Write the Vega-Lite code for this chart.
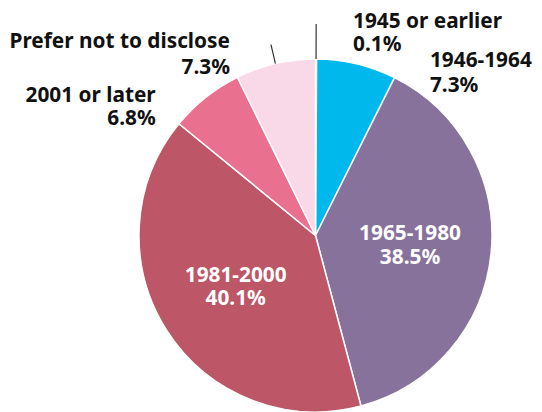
{
  "$schema": "https://vega.github.io/schema/vega-lite/v6.json",
  "width": 400,
  "height": 300,
  "autosize": "none",
  "padding": {"left": 115.5, "top": 85.5, "right": 26.5, "bottom": 26.5},
  "background": "white",
  "config": {"view": {"stroke": null}, "text": {"font": "Noto Sans", "fontSize": 20.8, "fontWeight": "bold"}},
  "data": {"values": [
    {"category": "1945 or earlier", "share": 0.001},
    {"category": "1946-1964", "share": 0.073},
    {"category": "1965-1980", "share": 0.385},
    {"category": "1981-2000", "share": 0.401},
    {"category": "2001 or later", "share": 0.068},
    {"category": "Prefer not to disclose", "share": 0.073}
  ]},
  "encoding": {
    "theta": {"field": "share", "type": "quantitative", "stack": true},
    "order": {"field": "category", "type": "nominal", "sort": "ascending"}
  },
  "layer": [
    {
      "mark": {"type": "arc", "radius": 176.5, "stroke": "white", "strokeWidth": 1.5},
      "encoding": {
        "color": {"field": "category", "type": "nominal", "legend": null,
          "scale": {"domain": ["1945 or earlier", "1946-1964", "1965-1980", "1981-2000", "2001 or later", "Prefer not to disclose"],
                    "range": ["#8a8a8a", "#00b8ec", "#87729b", "#bd5667", "#e9708f", "#f9d8e7"]}}
      }
    },
    {
      "mark": {"type": "arc", "radius": 211.5, "radius2": 176.5, "padAngle": 3, "fill": null, "stroke": "#333333", "strokeWidth": 1.2},
      "encoding": {
        "strokeOpacity": {"condition": {"test": "datum.category === '1945 or earlier'", "value": 1}, "value": 0}
      }
    },
    {
      "mark": {"type": "arc", "radius": 196, "radius2": 176.5, "padAngle": 3, "fill": null, "stroke": "#333333", "strokeWidth": 1.2},
      "encoding": {
        "strokeOpacity": {"condition": {"test": "datum.category === 'Prefer not to disclose'", "value": 1}, "value": 0}
      }
    },
    {
      "mark": {"type": "text", "radius": 95, "align": "center", "baseline": "alphabetic", "dy": -5, "fill": "white"},
      "encoding": {"text": {"condition": {"test": "datum.category === '1965-1980' || datum.category === '1981-2000'", "field": "category", "type": "nominal"}, "value": ""}}
    },
    {
      "mark": {"type": "text", "radius": 95, "align": "center", "baseline": "alphabetic", "dy": 18.5, "fill": "white"},
      "encoding": {"text": {"condition": {"test": "datum.category === '1965-1980' || datum.category === '1981-2000'", "field": "share", "type": "quantitative", "format": ".1%"}, "value": ""}}
    },
    {
      "mark": {"type": "text", "radius": 176.5, "align": "left", "baseline": "alphabetic", "dx": 37, "dy": -31.5, "fill": "#111111"},
      "encoding": {"text": {"condition": {"test": "datum.category === '1945 or earlier'", "field": "category", "type": "nominal"}, "value": ""}}
    },
    {
      "mark": {"type": "text", "radius": 176.5, "align": "left", "baseline": "alphabetic", "dx": 37, "dy": -8.5, "fill": "#111111"},
      "encoding": {"text": {"condition": {"test": "datum.category === '1945 or earlier'", "field": "share", "type": "quantitative", "format": ".1%"}, "value": ""}}
    },
    {
      "mark": {"type": "text", "radius": 176.5, "align": "left", "baseline": "alphabetic", "dx": 73.3, "dy": 2.8, "fill": "#111111"},
      "encoding": {"text": {"condition": {"test": "datum.category === '1946-1964'", "field": "category", "type": "nominal"}, "value": ""}}
    },
    {
      "mark": {"type": "text", "radius": 176.5, "align": "left", "baseline": "alphabetic", "dx": 73.3, "dy": 27.8, "fill": "#111111"},
      "encoding": {"text": {"condition": {"test": "datum.category === '1946-1964'", "field": "share", "type": "quantitative", "format": ".1%"}, "value": ""}}
    },
    {
      "mark": {"type": "text", "radius": 176.5, "align": "right", "baseline": "alphabetic", "dx": -50, "dy": 4.3, "fill": "#111111"},
      "encoding": {"text": {"condition": {"test": "datum.category === '2001 or later'", "field": "category", "type": "nominal"}, "value": ""}}
    },
    {
      "mark": {"type": "text", "radius": 176.5, "align": "right", "baseline": "alphabetic", "dx": -50, "dy": 27.6, "fill": "#111111"},
      "encoding": {"text": {"condition": {"test": "datum.category === '2001 or later'", "field": "share", "type": "quantitative", "format": ".1%"}, "value": ""}}
    },
    {
      "mark": {"type": "text", "radius": 176.5, "align": "right", "baseline": "alphabetic", "dx": -45.5, "dy": -15.3, "fill": "#111111"},
      "encoding": {"text": {"condition": {"test": "datum.category === 'Prefer not to disclose'", "field": "category", "type": "nominal"}, "value": ""}}
    },
    {
      "mark": {"type": "text", "radius": 176.5, "align": "right", "baseline": "alphabetic", "dx": -45.5, "dy": 10.7, "fill": "#111111"},
      "encoding": {"text": {"condition": {"test": "datum.category === 'Prefer not to disclose'", "field": "share", "type": "quantitative", "format": ".1%"}, "value": ""}}
    }
  ]
}
